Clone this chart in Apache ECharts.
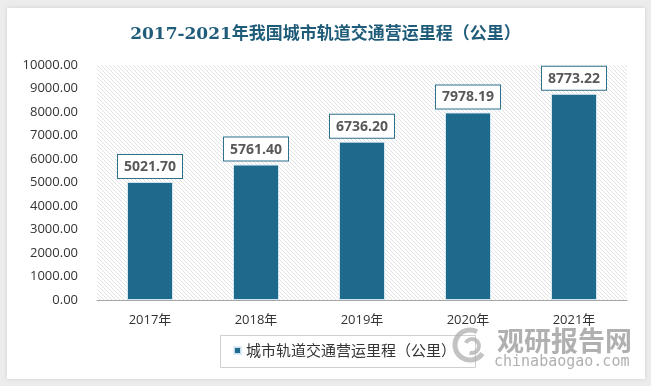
<!DOCTYPE html>
<html><head><meta charset="utf-8">
<script src="https://cdn.jsdelivr.net/npm/echarts@6/dist/echarts.min.js"></script>
<style>html,body{margin:0;padding:0;background:#ececec;}#c{width:651px;height:386px;}</style>
</head><body><div id="c"></div>
<script>
var titleText = '2017-2021年我国城市轨道交通营运里程（公里）';
var seriesName = '城市轨道交通营运里程（公里）';
var categories = ['2017年','2018年','2019年','2020年','2021年'];
var values = [5021.70, 5761.40, 6736.20, 7978.19, 8773.22];
var yMin = 0, yMax = 10000, yInterval = 1000;

var tile = document.createElement('canvas');
tile.width = 4; tile.height = 4;
var g = tile.getContext('2d');
g.fillStyle = '#ffffff'; g.fillRect(0,0,4,4);
g.strokeStyle = '#e2e2e2'; g.lineWidth = 1;
g.beginPath();
g.moveTo(-1,-1); g.lineTo(5,5);
g.moveTo(-1,3); g.lineTo(1,5);
g.moveTo(3,-1); g.lineTo(5,1);
g.stroke();

var chart = echarts.init(document.getElementById('c'), null, {renderer:'canvas'});
chart.setOption({
  backgroundColor: '#ececec',
  animation: false,
  graphic: [
    {type:'rect', z:-10, shape:{x:7,y:8,width:638,height:371}, style:{fill:'#ffffff', shadowBlur:4, shadowColor:'rgba(0,0,0,0.12)'}},
    {type:'rect', z:-5, shape:{x:220.5,y:335.5,width:255,height:32}, style:{fill:'#ffffff', stroke:'#d0d0d0', lineWidth:1}},
    {type:'text', z:5, left:497, top:327, style:{text:'观研报告网', fill:'rgba(150,150,150,0.75)', font:'bold 27px "Noto Sans CJK SC"'}},
    {type:'text', z:5, left:494, top:355, style:{text:'chinabaogao.com', fill:'rgba(150,150,150,0.75)', font:'15px "DejaVu Sans Mono"'}},
    {type:'arc', z:5, shape:{cx:470,cy:345,r:15,startAngle:0.6,endAngle:5.2}, style:{stroke:'rgba(170,170,170,0.7)', lineWidth:5, fill:null}},
    {type:'arc', z:5, shape:{cx:472,cy:346,r:7,startAngle:3.6,endAngle:8.2}, style:{stroke:'rgba(170,170,170,0.7)', lineWidth:4, fill:null}}
  ],
  title: {
    text: titleText, left: 'center', top: 21,
    textStyle: {fontFamily:'"DejaVu Serif","Noto Sans CJK SC"', fontSize:17, fontWeight:'bold', color:'#1f5c7a'}
  },
  grid: {left:97, right:24, top:65, bottom:86, show:true, borderWidth:0,
    backgroundColor: {image: tile, repeat:'repeat'}},
  legend: {
    data:[seriesName], left:220, top:335,
    icon:'rect', itemWidth:7, itemHeight:7, itemGap:7,
    padding:[8,14,8,13],
    borderWidth:0,
    textStyle:{fontSize:15, color:'#333', fontFamily:'"Noto Sans CJK SC"'}
  },
  xAxis: {
    type:'category', data:categories,
    axisLine:{lineStyle:{color:'#a6a6a6'}}, axisTick:{show:false},
    axisLabel:{color:'#333', fontSize:13, margin:14, fontFamily:'"Open Sans","Noto Sans CJK SC"'}
  },
  yAxis: {
    type:'value', min:yMin, max:yMax, interval:yInterval,
    splitLine:{show:false}, axisLine:{show:false}, axisTick:{show:false},
    axisLabel:{color:'#333', fontSize:13, margin:19, fontFamily:'"Open Sans"', formatter:function(v){return v.toFixed(2);}}
  },
  series: [{
    name: seriesName, type:'bar', data: values, barWidth:46,
    itemStyle:{color:'#1d6a8d', borderColor:'rgba(220,235,245,0.9)', borderWidth:1},
    label:{show:true, position:'top', distance:4,
      formatter:function(p){return p.value.toFixed(2);},
      color:'#595959', fontSize:14, fontWeight:'bold', fontFamily:'"Open Sans"',
      backgroundColor:'#ffffff', borderColor:'#2f6f8c', borderWidth:1, padding:[5,6,4,6]}
  }]
});
</script></body></html>
